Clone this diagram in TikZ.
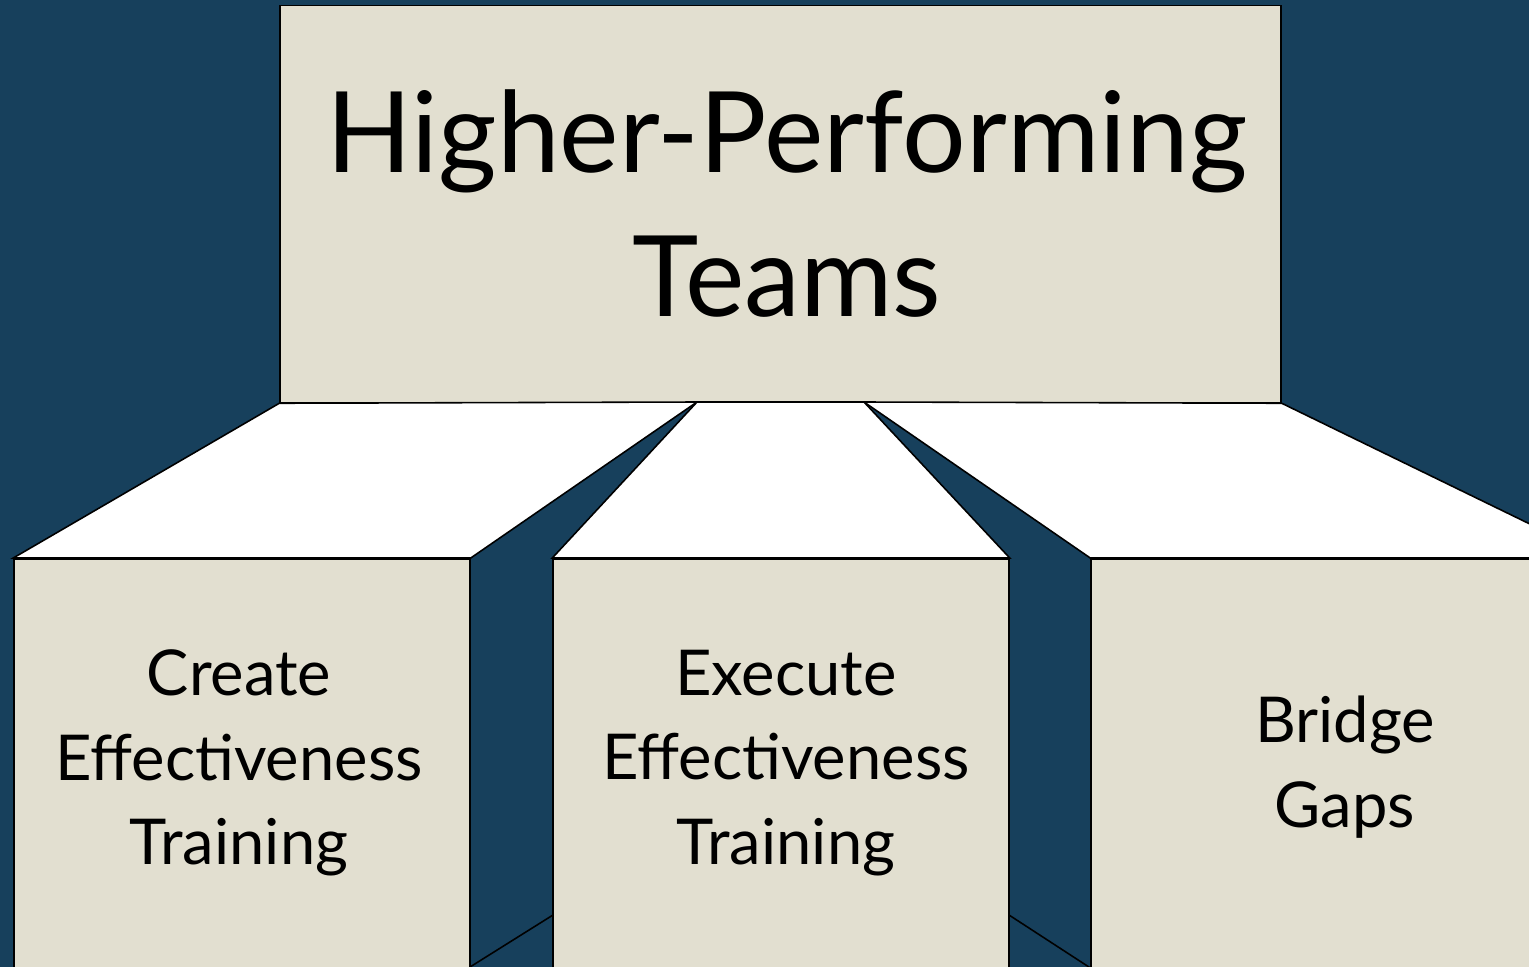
\documentclass[tikz,border=0pt]{standalone}
\usepackage{fontspec}
\setmainfont{Lato}
\usetikzlibrary{positioning}

\definecolor{navy}{RGB}{23,64,92}
\definecolor{sand}{RGB}{226,223,208}

\tikzset{
  panel/.style={draw=black, line width=0.9pt, fill=sand, inner sep=0pt},
  ramp/.style={draw=black, line width=0.9pt, fill=white},
  label/.style={align=center, inner sep=0pt, text=black},
}

\begin{document}
\begin{tikzpicture}[x=0.02cm, y=-0.02cm]
  % Background
  \fill[navy] (0,0) rectangle (1529,967);
  \clip (0,0) rectangle (1529,967);

  % Edges of the hidden lower ramps
  \coordinate (g1a) at (387,1019);
  \coordinate (g1b) at (553,915);
  \coordinate (g2a) at (1009,915);
  \coordinate (g2b) at (1175,1023);
  \draw[line width=0.9pt] (g1a) -- (g1b);
  \draw[line width=0.9pt] (g2a) -- (g2b);

  % Boxes
  \node[panel, minimum width=20.02cm, minimum height=7.94cm] (top) at (780.5,204) {};
  \node[panel, anchor=north, minimum width=9.12cm, minimum height=10cm] (create) at (242,558) {};
  \node[panel, anchor=north, minimum width=9.12cm, minimum height=10cm] (execute) at (781,558) {};
  \node[panel, anchor=north, minimum width=10.16cm, minimum height=10cm] (bridge) at (1345,558) {};

  % Split points on the bottom of the top box
  \coordinate (s1) at (697,402);
  \coordinate (s2) at (864,402);

  % Ramps down to the boxes
  \draw[ramp] (top.south west) -- (s1) -- (create.north east) -- (create.north west) -- cycle;
  \draw[ramp] (s1) -- (s2) -- (execute.north east) -- (execute.north west) -- cycle;
  \draw[ramp] (s2) -- (top.south east) -- (bridge.north east) -- (bridge.north west) -- cycle;

  % Texts
  \node[label, font=\fontsize{64}{82}\selectfont] (toptxt) at (787,204) {Higher-Performing\\Teams};
  \node[label, font=\fontsize{36}{48}\selectfont] (createtxt) at (239,763) {Create\\Effectiveness\\Training};
  \node[label, font=\fontsize{36}{48}\selectfont] (executetxt) at (786,763) {Execute\\Effectiveness\\Training};
  \node[label, font=\fontsize{36}{48}\selectfont] (bridgetxt) at (1345,767) {Bridge\\Gaps};
\end{tikzpicture}
\end{document}
